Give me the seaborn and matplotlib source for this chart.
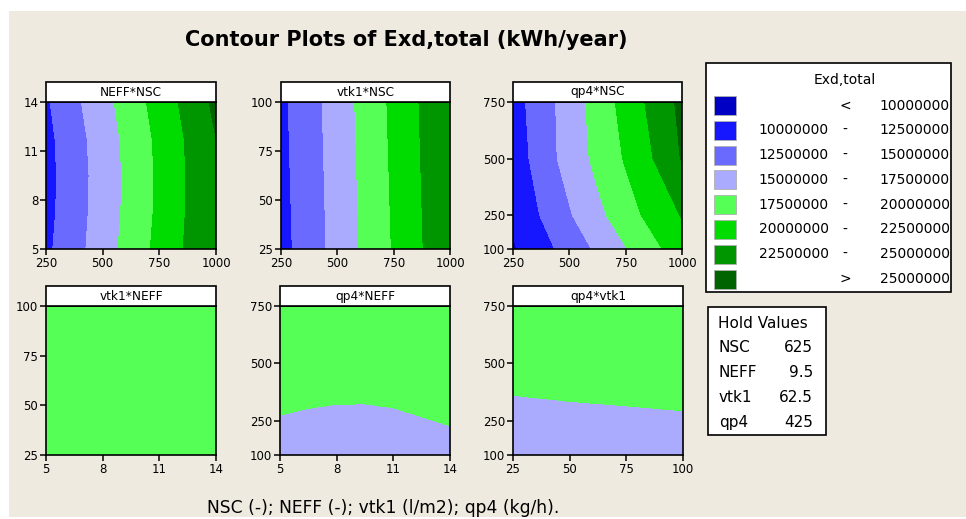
import numpy as np
import matplotlib
matplotlib.use("Agg")
import matplotlib.pyplot as plt
from matplotlib.patches import Rectangle
import seaborn as sns

# ---- response values (millions of kWh/year) on small grids ----
nsc_grid = [250, 437.5, 625, 812.5, 1000]
neff_rows = [5, 7.25, 9.5, 11.75, 14]
z_neff_nsc = [
    [11.99, 15.20, 18.51, 21.78, 24.95],
    [11.76, 15.02, 18.28, 21.58, 24.88],
    [11.68, 14.96, 18.21, 21.52, 24.86],
    [11.80, 15.11, 18.35, 21.67, 24.98],
    [12.17, 15.57, 18.78, 22.14, 25.57],
]

vtk1_rows = [25, 100]
z_vtk1_nsc = [
    [11.67, 14.79, 17.99, 21.28, 24.62],
    [11.97, 15.08, 18.33, 21.63, 24.91],
]

qp4_rows = [100, 250, 500, 750]
z_qp4_nsc = [
    [9.75, 12.54, 15.42, 18.36, 21.42],
    [10.41, 13.73, 16.87, 19.90, 22.65],
    [11.07, 14.85, 18.15, 21.28, 25.16],
    [11.45, 14.97, 18.50, 22.08, 25.62],
]

neff_cols2 = [5, 14]
vtk1_rows2 = [25, 100]
z_vtk1_neff = [
    [17.99, 17.97],
    [17.95, 17.93],
]

neff_cols = [5, 6.5, 8, 9.5, 11, 12.5, 14]
qp4_rows2 = [100, 750]
z_qp4_neff = [
    [16.70, 16.56, 16.48, 16.47, 16.55, 16.73, 16.91],
    [19.70, 19.56, 19.48, 19.47, 19.55, 19.73, 19.91],
]

vtk1_cols = [25, 50, 75, 100]
z_qp4_vtk1 = [
    [16.30, 16.42, 16.51, 16.61],
    [19.30, 19.42, 19.51, 19.61],
]

level_edges = [10.0, 12.5, 15.0, 17.5, 20.0, 22.5, 25.0]
level_colors = ["#0000C4", "#1616FF", "#6A6AFF", "#AAAAFF",
                "#55FF55", "#00DC00", "#009600", "#006400"]

hold_names = ["NSC", "NEFF", "vtk1", "qp4"]
hold_values = ["625", "9.5", "62.5", "425"]

panels = [
    ("NEFF*NSC", nsc_grid, neff_rows, z_neff_nsc, [250, 500, 750, 1000], [5, 8, 11, 14]),
    ("vtk1*NSC", nsc_grid, vtk1_rows, z_vtk1_nsc, [250, 500, 750, 1000], [25, 50, 75, 100]),
    ("qp4*NSC", nsc_grid, qp4_rows, z_qp4_nsc, [250, 500, 750, 1000], [100, 250, 500, 750]),
    ("vtk1*NEFF", neff_cols2, vtk1_rows2, z_vtk1_neff, [5, 8, 11, 14], [25, 50, 75, 100]),
    ("qp4*NEFF", neff_cols, qp4_rows2, z_qp4_neff, [5, 8, 11, 14], [100, 250, 500, 750]),
    ("qp4*vtk1", vtk1_cols, qp4_rows2, z_qp4_vtk1, [25, 50, 75, 100], [100, 250, 500, 750]),
]

# ---- style ----
sns.set_theme(style="ticks")
plt.rcParams.update({
    "font.family": ["DejaVu Sans"],
    "text.color": "black",
    "axes.labelcolor": "black",
    "axes.edgecolor": "black",
    "axes.linewidth": 1.2,
    "xtick.color": "black",
    "ytick.color": "black",
    "xtick.labelcolor": "black",
    "ytick.labelcolor": "black",
    "xtick.major.size": 4,
    "ytick.major.size": 4,
    "xtick.major.width": 1.1,
    "ytick.major.width": 1.1,
    "xtick.labelsize": 8.5,
    "ytick.labelsize": 8.5,
})

W, H = 966, 519
fig = plt.figure(figsize=(W / 100, H / 100), dpi=100, facecolor="white")


def fx(x):
    return x / W


def fy(y):
    return 1 - y / H


beige = "#EEEAE0"
fig.patches.append(Rectangle((fx(9), fy(517)), fx(966) - fx(9), fy(11) - fy(517),
                             transform=fig.transFigure, facecolor=beige,
                             edgecolor="none", zorder=-10))

palette = sns.color_palette(level_colors)
levels = [0.0] + level_edges + [100.0]

# axes rectangles in pixels: left, top, right, bottom
boxes = [
    (46, 102, 216, 249), (281, 102, 450, 249), (513, 102, 682, 249),
    (46, 306, 216, 455), (280, 306, 450, 455), (513, 306, 683, 455),
]

for (name, xs, ys, zs, xt, yt), (l, t, r, b) in zip(panels, boxes):
    ax = fig.add_axes([fx(l), fy(b), fx(r) - fx(l), fy(t) - fy(b)])
    X, Y = np.meshgrid(xs, ys)
    ax.contourf(X, Y, np.array(zs), levels=levels, colors=palette, antialiased=False)
    ax.set_xlim(xs[0], xs[-1])
    ax.set_ylim(ys[0], ys[-1])
    ax.set_xticks(xt)
    ax.set_yticks(yt)
    ax.tick_params(axis="both", pad=1.5, colors="black", labelcolor="black")
    for s in ax.spines.values():
        s.set_zorder(5)
    # strip header above each panel
    sh = 20 / (b - t)
    ax.add_patch(Rectangle((0, 1), 1, sh, transform=ax.transAxes, facecolor="white",
                           edgecolor="black", linewidth=1.2, clip_on=False, zorder=6))
    ax.text(0.5, 1 + sh / 2, name, transform=ax.transAxes, ha="center", va="center",
            fontsize=8.7, color="black", zorder=7)

# title and footnote
fig.text(fx(406), fy(40), "Contour Plots of Exd,total (kWh/year)", ha="center",
         va="center", fontsize=15, fontweight="bold", color="black")
fig.text(fx(207), fy(508), "NSC (-); NEFF (-); vtk1 (l/m2); qp4 (kg/h).", ha="left",
         va="center", fontsize=12.3, color="black")

# legend box
fig.patches.append(Rectangle((fx(706), fy(292)), fx(951) - fx(706), fy(63) - fy(292),
                             transform=fig.transFigure, facecolor="white",
                             edgecolor="black", linewidth=1.2, zorder=1))
fig.text(fx(845), fy(80), "Exd,total", ha="center", va="center", fontsize=10)
row_y0, row_dy = 105.5, 24.8
labels_lo = [""] + [f"{int(v * 1e6)}" for v in level_edges]
labels_hi = [f"{int(v * 1e6)}" for v in level_edges] + [f"{int(level_edges[-1] * 1e6)}"]
for i, col in enumerate(palette):
    yc = row_y0 + i * row_dy
    fig.patches.append(Rectangle((fx(714), fy(yc + 9.5)), fx(736) - fx(714), 19 / H,
                                 transform=fig.transFigure, facecolor=col,
                                 edgecolor="#B0B0B0", linewidth=0.6, zorder=2))
    if i == 0:
        sym = "<"
    elif i == len(palette) - 1:
        sym = ">"
    else:
        sym = "-"
    if labels_lo[i] and i < len(palette) - 1:
        fig.text(fx(829), fy(yc), labels_lo[i], ha="right", va="center", fontsize=10)
    fig.text(fx(845), fy(yc), sym, ha="center", va="center", fontsize=10)
    fig.text(fx(950), fy(yc), labels_hi[i], ha="right", va="center", fontsize=10)

# hold values box
fig.patches.append(Rectangle((fx(708), fy(435)), fx(826) - fx(708), fy(307) - fy(435),
                             transform=fig.transFigure, facecolor="white",
                             edgecolor="black", linewidth=1.2, zorder=1))
fig.text(fx(718), fy(323), "Hold Values", ha="left", va="center", fontsize=11)
for i, (n, v) in enumerate(zip(hold_names, hold_values)):
    yc = 348 + i * 24.7
    fig.text(fx(719), fy(yc), n, ha="left", va="center", fontsize=11)
    fig.text(fx(813), fy(yc), v, ha="right", va="center", fontsize=11)

fig.savefig("out.png", dpi=100, facecolor="white")
